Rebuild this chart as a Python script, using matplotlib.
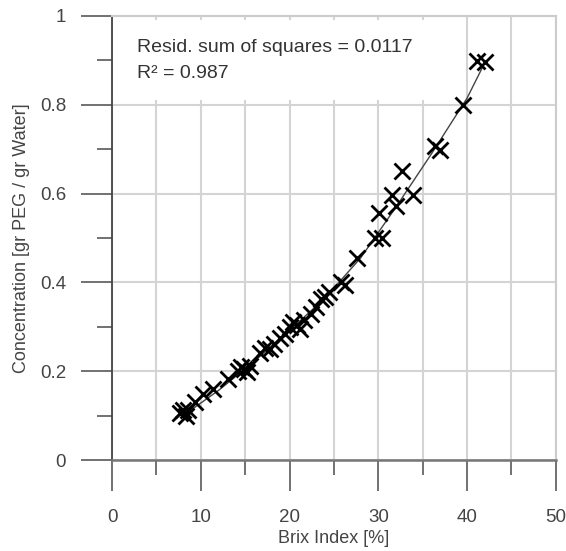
import matplotlib
matplotlib.use("Agg")
import matplotlib.pyplot as plt
from matplotlib.patches import Rectangle
from matplotlib.ticker import MultipleLocator, FormatStrFormatter

plt.rcParams['font.family'] = ['Liberation Sans', 'DejaVu Sans']

# measured points (Brix %, concentration)
brix = [7.7, 8.0, 8.3, 8.6, 9.4, 10.3, 11.4, 13.1, 14.2, 14.5, 14.9, 15.2, 15.5,
        16.7, 17.2, 17.8, 18.3, 18.9, 19.5, 20.0, 20.4, 20.8, 21.2, 21.6, 22.4,
        23.0, 23.5, 24.0, 24.4, 25.8, 26.2, 27.6, 29.6, 30.4, 30.1, 31.5, 32.0,
        32.7, 33.9, 36.4, 36.9, 39.5, 41.1, 42.0]
conc = [0.105, 0.112, 0.100, 0.113, 0.130, 0.148, 0.160, 0.183, 0.200, 0.210,
        0.205, 0.198, 0.212, 0.240, 0.252, 0.250, 0.262, 0.275, 0.285, 0.300,
        0.310, 0.305, 0.295, 0.315, 0.330, 0.345, 0.362, 0.368, 0.378, 0.400,
        0.395, 0.455, 0.500, 0.500, 0.556, 0.597, 0.572, 0.651, 0.597, 0.707,
        0.698, 0.800, 0.899, 0.897]

# fitted curve
fit_x = [8, 12, 16, 20, 24, 28, 32, 36, 40, 42]
fit_y = [0.100, 0.157, 0.222, 0.292, 0.365, 0.455, 0.570, 0.690, 0.815, 0.895]

xticks = [0, 10, 20, 30, 40, 50]
yticks = [0, 0.2, 0.4, 0.6, 0.8, 1]

fig = plt.figure(figsize=(5.66, 5.51), dpi=100)
ax = fig.add_axes([0.198, 0.165, 0.784, 0.806])

ax.plot(fit_x, fit_y, color='#444444', lw=1, zorder=3)
ax.plot(brix, conc, ls='none', marker='x', ms=11.5, mew=2, color='black', zorder=4)

ax.set_xlim(0, 50)
ax.set_ylim(0, 1)
ax.set_xticks(xticks)
ax.set_yticks(yticks)
ax.xaxis.set_minor_locator(MultipleLocator(5))
ax.yaxis.set_minor_locator(MultipleLocator(0.1))
ax.xaxis.set_major_formatter(FormatStrFormatter('%g'))
ax.yaxis.set_major_formatter(FormatStrFormatter('%g'))

ax.set_axisbelow(True)
ax.grid(True, which='both', axis='x', color='#d4d4d4', lw=1.5)
ax.grid(True, which='major', axis='y', color='#d4d4d4', lw=1.5)

ax.tick_params(which='major', direction='out', length=22, width=1.3, color='#666666',
               labelsize=13.5, labelcolor='#444444')
ax.tick_params(which='minor', direction='out', length=11, width=1.3, color='#666666')
ax.tick_params(axis='x', which='major', pad=13)
ax.tick_params(axis='y', which='major', pad=11)

for s in ['top', 'right']:
    ax.spines[s].set_color('#cccccc')
    ax.spines[s].set_linewidth(1.5)
ax.spines['left'].set_color('#444444')
ax.spines['left'].set_linewidth(1.3)
ax.spines['bottom'].set_color('#777777')
ax.spines['bottom'].set_linewidth(1.8)

ax.add_patch(Rectangle((0.003, 0.81), 0.713, 0.18, transform=ax.transAxes,
                       facecolor='white', edgecolor='none', zorder=1))
ax.text(0.056, 0.93, 'Resid. sum of squares = 0.0117', transform=ax.transAxes,
        fontsize=14, color='#333333', va='center', zorder=5)
ax.text(0.056, 0.871, 'R² = 0.987', transform=ax.transAxes,
        fontsize=14, color='#333333', va='center', zorder=5)

ax.set_xlabel('Brix Index [%]', fontsize=13, color='#444444', labelpad=3)
ax.set_ylabel('Concentration [gr PEG / gr Water]', fontsize=13, color='#444444', labelpad=7)

fig.savefig('out.png', dpi=100)
